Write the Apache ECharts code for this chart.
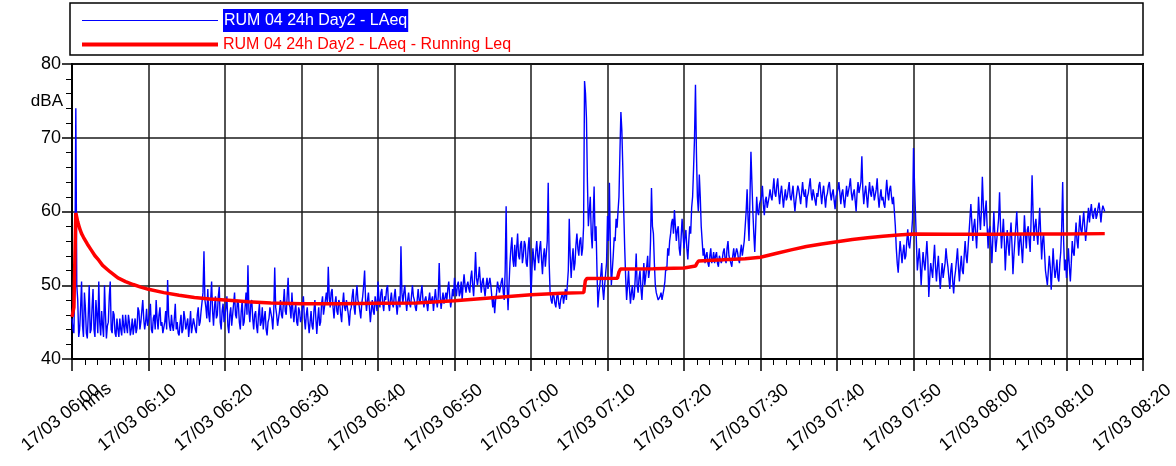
<!DOCTYPE html>
<html><head><meta charset="utf-8">
<script src="https://cdn.jsdelivr.net/npm/echarts@6/dist/echarts.min.js"></script>
<style>html,body{margin:0;padding:0;background:#fff}#c{width:1176px;height:466px}</style>
</head><body><div id="c"></div>
<script>
// ---- data ----
const dateLabel = '17/03';
const startHour = 6;            // 06:00
const stepMinutes = 0.125;      // LAeq sample step (7.5 s)
const xMin = 0, xMax = 140, xInterval = 10;   // minutes after 06:00
const yMin = 40, yMax = 80, yInterval = 10;
const yUnit = 'dBA';
const xUnit = 'hms';
const seriesNames = ['RUM 04 24h Day2 - LAeq', 'RUM 04 24h Day2 - LAeq - Running Leq'];

// LAeq, one value every 7.5 s from 06:00:00 (8 values per minute, one row per minute)
const laeq = [
45.5,44,43.5,52,74,50,48,43,
44,47,50.5,44.5,43,49,47,43.5,
42.8,46,50,43.5,44,47,49.5,44,
43,48,46,43.5,50.5,45,43.2,46.5,
44.5,43,50,46,42.8,44.5,45,48.5,
50.5,44,43.5,46.5,46,43.5,43,45.5,
44,43,45.5,44,43.2,46,44.5,43.5,
46,44.5,43.5,46,45,43.2,44,45.5,
43.3,44.5,45.5,43.5,44.2,47,46.5,44,
45,46.5,48,45.5,44,45,46.8,44.5,
44.5,46,47.5,44,43.5,45.5,46,44,
48,45.5,44,46,47,44.5,45,43.5,
43.5,45,46.5,44,50.7,46,44.5,43.8,
46,44.5,43.8,45.5,47.5,44,45,43.5,
43.2,44.8,46,43.5,44,46.5,45.5,44,
44,45.5,43,44.5,46.5,43.5,44.5,45.5,
45.5,44,43.5,46,47,44.5,45,46.5,
46.5,49,54.6,48,47,45.5,49.5,46,
45,48,50.5,46.5,44.5,47,48.5,45.5,
46,48.5,49.8,45,44,46.5,47.5,45,
45,47,48.5,44.5,43.5,46,47,44.5,
44.5,47.5,49,46,45.5,48,47.5,45,
44,46.5,48,44.5,45,47,49,46,
52.7,46.5,45,47.5,48,45.5,44,46,
46.5,44.5,43.5,46,47.5,44.5,45,47,
44,45.5,46.5,44,43.2,45,45.5,47,
47,45.5,44,46.5,52.4,47,46,44.5,
44.5,46.5,48,46,45.5,47.5,49.5,46.5,
46,48.5,51,47.5,47,45.5,49,46.5,
45,46.5,47.5,45,44.5,47,46.5,45,
45.5,47,48.5,45.5,44,46,47,45,
43.5,45,46.5,44.5,44,46.5,48,45.5,
43.4,45.5,47,44.5,45,47.5,48.5,46,
46,48,49,47.5,52.5,48.5,47,49,
49.5,47,45.5,47.5,48.5,46.5,46,48,
47.5,46,45,47.5,49,47,46.5,48,
48,46,44.5,46.5,47,48.5,49.5,47,
46,48.5,50,48,47.5,46.5,45.5,47.5,
48.5,50,52,48,46.5,48,49,47,
45,46.5,48,46.5,46,48.5,47.5,46.5,
50.5,48,47,49,49.5,47.5,46.5,48.5,
48,49.5,50,47.5,46.5,48,49,47.5,
47,48.5,49.5,47.5,46,47.5,48.5,47,
55.3,49,47.5,49,50,48,46.5,48,
49,47.5,47,48.5,50,48.5,48,47,
46.5,48,49.5,48,47.5,49,50,48,
47,48,48.5,47.5,46.5,48,49,47.5,
47.5,48.5,46.5,48,49.5,48,47,48.5,
53,48.5,46.8,48,49,47.5,47.5,49,
48,49.5,50.5,48.5,47,48,49.5,48.5,
51,49.5,48.5,50,50.5,48.5,49,50.5,
48,50,51.5,50,49,50,50.5,49.5,
49,51,52,50,48.5,51,54.5,51,
50,51,52.5,50.5,49,50.5,51,49.5,
48.5,50,51,49.5,49.5,51,50,48.5,
47,48.5,46.2,48,49,50.5,50.5,49,
49,50.5,51,49,48,52,60.7,50,
46.6,50,53,55,56.5,53.5,52.5,55.5,
52.5,55,57,54,53.5,55.5,56,53,
54,56,55.5,53,52.5,55,56.5,53.5,
48.3,52,55,53.5,52,54.5,56,54,
53,55,56,53.5,51.5,54,55,52.5,
52.5,56,63.9,53,49,48,47.5,49,
48.5,47.5,47,48.5,49,47.5,46.8,48,
48,49,47.5,48.5,49.5,48,48,52,
59,54,51,53.5,55,52,53,55.5,
57,55,54,56,56.5,54,55,58,
77.7,76,72.6,64,58,60,62,57,
55,59,63.4,56,58,52,47,49,
50,51.5,53,49.5,48,50,51.5,53,
59.4,56,63.9,55,50,52,54,56.5,
56,59,57.8,60,62,68,73.5,71,
66,60,55,51,48,50,52,49.5,
47.5,49,50,48,48.5,51,54.3,50,
49,51,52,49.5,48,50.5,53,50,
50,52.5,54,51,52,56,63.2,58,
57,53,50,49,48.5,48,47.8,48.5,
49,48,48,49.5,50.5,52.5,52,55,
54,56,57,58.5,59,57,60.2,58,
56,57.5,58,55,54,56.5,59,57,
55,56.5,57.5,55,53.5,56,58,57,
60.5,62,65.8,70,77.2,68,62,60,
65,62,58,56,54,55,53,54,
54.5,53,52.5,54,55,53,53.5,54.5,
53,54,54.5,53,52.5,54,54,53,
53.5,54.5,55,53.5,53,55,56,54,
54,53,52.5,54,55,53.5,53.5,55,
54.5,53.5,53,54.5,55.5,54,54,56,
58,60,63,59,56,62,68.1,64,
60,57,54.5,58,62,60,59.5,61,
61,62,63.5,61,59.5,61.5,62,60.5,
60.5,62,63,62,61.5,63,64.5,62.5,
62,63.5,64.5,62.5,61,62.5,63.5,62,
60.5,62,63,61.5,62,63,64,62,
61.5,62.5,63.5,61.5,60,61.5,62.5,63.5,
63,62,61,62.5,64,62.5,62,63,
60.5,62,62.5,63.5,64.5,62.5,61.5,63,
63,61.5,60.8,62.5,62,63.5,64,62.5,
61,62.5,63.5,62,60.5,62,62.5,63.5,
64,62.5,61.5,62.5,63,61.5,60.3,62,
62,63,64,62.5,61,62.5,63,61.5,
60.5,62,63.5,62,62,63.5,64.5,62.5,
61.5,62.5,63,61.5,60,62.5,64,62.5,
62.5,64,67.5,63,61,62.5,63.5,62,
60.5,62.5,64,62.5,62,63.5,63,61.5,
61.5,63,64.5,62,60.5,62,63,61.5,
62,61,60.5,62.5,64.3,62.5,61.5,63,
63.5,62,61,62,60,58,55,53,
51.7,54,56,54.5,53,54.5,55.5,53.5,
54,56,57.6,55.5,55,56.5,57,59,
68.6,64,60,56,52,53.5,55,53,
50,52.5,54.5,53,52,54,56,53.5,
48.4,51,53,52,51,53.5,55.5,52.5,
50.5,52.5,54,51.5,49.5,51.5,53,51,
51,53,55,53.5,52.5,51,49.5,52,
53,50.5,48.9,51,52,53.5,55,52.5,
50.5,52.5,54,52,51.5,54,56,54,
53,55,57,59,61,58.5,56,58,
59,57,55,58,62,59.5,57.5,60,
64.7,61,58,60,61.5,58,55,57.5,
58,55.5,53,56.5,60,57,54.5,56,
56,59,62.6,58,55,57,59,56,
52,55,57.5,55.5,54,56.5,58.5,55.5,
51.5,54,56,58,60,57,54,56,
57,55,53,56,59.5,57,55,57.5,
58,56,54.5,59,64.9,60,56,58,
59,57,55.5,58,60.5,57,53.5,56,
57,54.5,52,51,50,52,54,52.5,
49.4,52,55,52.5,51,52,53.5,51,
50.5,53,54.5,58,64,56,52,53.5,
51,53,55,52.5,50.5,53,56,54.5,
54,56.5,58.5,56,55,57.5,59.5,57.5,
57,58.5,60,58,56,57.5,59,60.5,
58.5,60,61,59.5,59,60,60.5,59,
59.5,60.5,61.2,60,58.5,60,60.8,61,
60
];

// Running Leq: minutes after 06:00 and value
const runMinutes = [0,0.25,0.5,0.75,1,1.25,1.5,2,2.5,3,3.5,4,5,6,7,8,9,10,12,14,16,18,20,23,26,30,35,40,45,50,55,60,64,66.9,67.1,67.3,71.3,71.5,71.7,76,80,81.5,81.7,81.9,85,88,90,92,94,96,98,100,102,104,106,108,110,115,120,125,130,135];
const runValues  = [45.7,47,59.8,58.6,57.7,57.0,56.5,55.6,54.8,54.0,53.4,52.7,51.8,51.0,50.5,50.1,49.75,49.45,49.0,48.65,48.35,48.15,48.0,47.75,47.6,47.5,47.5,47.55,47.6,47.9,48.3,48.7,48.9,49.0,50.6,50.9,50.95,51.8,52.2,52.25,52.35,52.6,53.0,53.3,53.45,53.6,53.8,54.3,54.8,55.25,55.6,55.9,56.2,56.45,56.65,56.8,56.95,56.9,56.9,56.95,56.95,57.0];

// ---- chart ----
const pad = n => (n < 10 ? '0' : '') + n;
function timeLabel(v) {
  const total = startHour * 60 + Math.round(v);
  return dateLabel + ' ' + pad(Math.floor(total / 60)) + ':' + pad(total % 60);
}
const laeqData = laeq.map((v, i) => [i * stepMinutes, v]);
const runData = runMinutes.map((t, i) => [t, runValues[i]]);
const FONT = 'Liberation Sans, Arial, sans-serif';

const chart = echarts.init(document.getElementById('c'), null, {renderer: 'canvas'});
chart.setOption({
  animation: false,
  backgroundColor: '#fff',
  grid: {left: 72, right: 33, top: 64, bottom: 107, containLabel: false, outerBoundsMode: 'none',
         show: true, borderColor: '#000', borderWidth: 2, backgroundColor: 'transparent'},
  legend: {
    orient: 'vertical', left: 75, top: 4, itemWidth: 136, itemHeight: 24, itemGap: 3,
    selectedMode: false,
    itemStyle: {opacity: 0, borderWidth: 0},
    textStyle: {fontFamily: FONT, fontSize: 16},
    data: [
      {name: seriesNames[0], lineStyle: {width: 1.2},
       textStyle: {color: '#fff', backgroundColor: '#0000ff', padding: [4, 1, 3, 1]}},
      {name: seriesNames[1], lineStyle: {width: 4}, textStyle: {color: '#ff0000'}}
    ]
  },
  graphic: [
    {type: 'rect', shape: {x: 70, y: 3, width: 1073, height: 52}, z: -1,
     style: {fill: 'transparent', stroke: '#000', lineWidth: 1.5}},
    {type: 'text', x: 63, y: 101, style: {text: yUnit, align: 'right', verticalAlign: 'middle',
     font: '17px Liberation Sans', fill: '#000'}},
    {type: 'text', x: 96, y: 397, rotation: 38 * Math.PI / 180,
     style: {text: xUnit, align: 'center', verticalAlign: 'middle', font: '18px Liberation Sans', fill: '#000'}}
  ],
  xAxis: {
    type: 'value', min: xMin, max: xMax, interval: xInterval,
    axisLine: {show: true, lineStyle: {color: '#000', width: 2}},
    axisTick: {show: true, length: 12, lineStyle: {color: '#000', width: 1.5}},
    minorTick: {show: true, splitNumber: 6, length: 6, lineStyle: {color: '#000', width: 1}},
    splitLine: {show: true, lineStyle: {color: '#1a1a1a', width: 1.5}},
    axisLabel: {rotate: 39, fontFamily: FONT, fontSize: 18, color: '#000',
      align: 'right', verticalAlign: 'top', padding: [32, 0, 0, 0], margin: -3,
      showMinLabel: true, showMaxLabel: true, formatter: timeLabel}
  },
  yAxis: {
    type: 'value', min: yMin, max: yMax, interval: yInterval,
    axisLine: {show: true, lineStyle: {color: '#000', width: 2}},
    axisTick: {show: true, length: 10, lineStyle: {color: '#000', width: 1.5}},
    minorTick: {show: true, splitNumber: 5, length: 6, lineStyle: {color: '#000', width: 1}},
    splitLine: {show: true, lineStyle: {color: '#1a1a1a', width: 1.5}},
    axisLabel: {fontFamily: FONT, fontSize: 18, color: '#000', margin: 11}
  },
  series: [
    {name: seriesNames[0], type: 'line', data: laeqData, symbol: 'none', sampling: 'none',
     lineStyle: {color: '#0000ff', width: 1.4}, itemStyle: {color: '#0000ff'}, z: 2},
    {name: seriesNames[1], type: 'line', data: runData, symbol: 'none',
     lineStyle: {color: '#ff0000', width: 3.5}, itemStyle: {color: '#ff0000'}, z: 3}
  ]
});
</script></body></html>
